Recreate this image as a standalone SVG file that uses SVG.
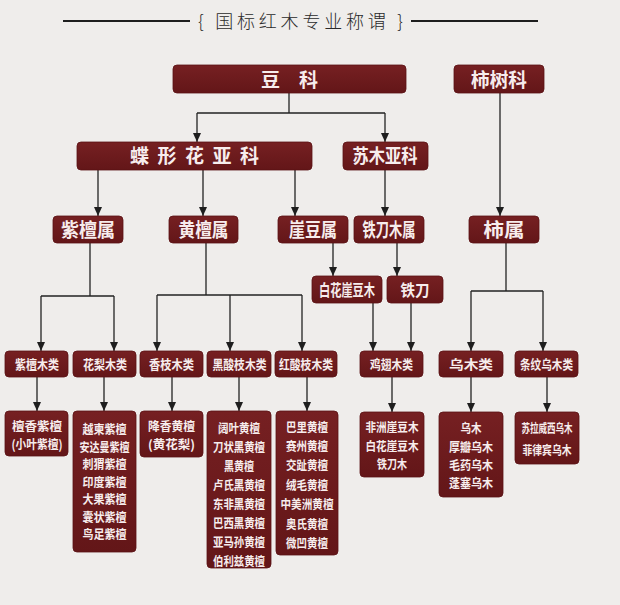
<svg xmlns="http://www.w3.org/2000/svg" width="620" height="605" viewBox="0 0 620 605">
<defs>
<linearGradient id="g" x1="0" y1="0" x2="0" y2="1">
<stop offset="0" stop-color="#762022"/>
<stop offset="1" stop-color="#631618"/>
</linearGradient>
<marker id="arr" markerUnits="userSpaceOnUse" markerWidth="9" markerHeight="9" refX="9" refY="4.5" orient="auto">
<path d="M0,0.5 L9,4.5 L0,8.5 z" fill="#1e1e1e"/>
</marker>
</defs>
<style>
.box{fill:url(#g);stroke:#5a1214;stroke-width:0.8}
.t{font-family:"Noto Sans CJK SC","Noto Sans",sans-serif;font-weight:700;fill:#f7eded;text-anchor:middle}
.l1{font-size:19px}
.l3{font-size:19px}
.l35{font-size:16px}
.l4{font-size:13px}
.l5{font-size:12.5px}
.ln{stroke:#222;stroke-width:1.3;fill:none}
.ar{stroke:#222;stroke-width:1.3;fill:none;marker-end:url(#arr)}
.title{font-family:"Noto Sans CJK SC","Noto Sans",sans-serif;font-weight:300;font-size:18px;fill:#2a2a2a;text-anchor:middle}
</style>
<rect x="0" y="0" width="620" height="605" fill="#efedeb"/>

<g id="title">
<line x1="63" y1="21" x2="190" y2="21" stroke="#1e1e1e" stroke-width="2"/>
<line x1="411" y1="21" x2="538" y2="21" stroke="#1e1e1e" stroke-width="2"/>
<text class="title" x="300.5" y="28" textLength="205" lengthAdjust="spacing">{ 国标红木专业称谓 }</text>
</g>

<g id="connectors">
<line class="ln" x1="289" y1="93" x2="289" y2="113"/>
<line class="ln" x1="197" y1="113" x2="385" y2="113"/>
<line class="ar" x1="197" y1="113" x2="197" y2="142"/>
<line class="ar" x1="385" y1="113" x2="385" y2="142"/>
<line class="ar" x1="500" y1="93" x2="500" y2="216"/>
<line class="ar" x1="98" y1="170" x2="98" y2="216"/>
<line class="ar" x1="203" y1="170" x2="203" y2="216"/>
<line class="ar" x1="295" y1="170" x2="295" y2="216"/>
<line class="ar" x1="385" y1="170" x2="385" y2="216"/>
<line class="ln" x1="90" y1="243" x2="90" y2="296"/>
<line class="ln" x1="41" y1="296" x2="114" y2="296"/>
<line class="ar" x1="41" y1="296" x2="41" y2="351"/>
<line class="ar" x1="114" y1="296" x2="114" y2="351"/>
<line class="ln" x1="206" y1="243" x2="206" y2="295"/>
<line class="ln" x1="157" y1="295" x2="302" y2="295"/>
<line class="ar" x1="157" y1="295" x2="157" y2="351"/>
<line class="ar" x1="230" y1="295" x2="230" y2="351"/>
<line class="ar" x1="302" y1="295" x2="302" y2="351"/>
<line class="ar" x1="333" y1="243" x2="333" y2="276"/>
<line class="ar" x1="397" y1="243" x2="397" y2="276"/>
<line class="ar" x1="373" y1="303" x2="373" y2="351"/>
<line class="ar" x1="411" y1="303" x2="411" y2="351"/>
<line class="ln" x1="506" y1="243" x2="506" y2="291"/>
<line class="ln" x1="471" y1="291" x2="543" y2="291"/>
<line class="ar" x1="471" y1="291" x2="471" y2="351"/>
<line class="ar" x1="543" y1="291" x2="543" y2="351"/>
<line class="ar" x1="37" y1="377" x2="37" y2="411"/>
<line class="ar" x1="104" y1="377" x2="104" y2="411"/>
<line class="ar" x1="172" y1="377" x2="172" y2="411"/>
<line class="ar" x1="239" y1="377" x2="239" y2="411"/>
<line class="ar" x1="307" y1="377" x2="307" y2="411"/>
<line class="ar" x1="392" y1="377" x2="392" y2="412"/>
<line class="ar" x1="471" y1="377" x2="471" y2="412"/>
<line class="ar" x1="547" y1="377" x2="547" y2="412"/>
</g>

<g id="douke">
<rect class="box" x="173" y="65" width="233" height="28" rx="4"/>
<text class="t l1" x="289.5" y="86.5" textLength="57" lengthAdjust="spacing">豆科</text>
</g>
<g id="shishuke">
<rect class="box" x="454" y="65" width="90" height="28" rx="4"/>
<text class="t l1" x="499" y="86.5" textLength="56" lengthAdjust="spacingAndGlyphs">柿树科</text>
</g>

<g id="diexinghua">
<rect class="box" x="77" y="142" width="235" height="28" rx="4"/>
<text class="t l1" x="194.5" y="163" textLength="129" lengthAdjust="spacing">蝶形花亚科</text>
</g>
<g id="sumu">
<rect class="box" x="343" y="142" width="85" height="28" rx="4"/>
<text class="t l1" x="385" y="163" textLength="65" lengthAdjust="spacingAndGlyphs">苏木亚科</text>
</g>

<g id="zitanshu">
<rect class="box" x="53" y="216" width="70" height="27" rx="4"/>
<text class="t l3" x="88" y="236.5" textLength="54" lengthAdjust="spacingAndGlyphs">紫檀属</text>
</g>
<g id="huangtanshu">
<rect class="box" x="169" y="216" width="69" height="27" rx="4"/>
<text class="t l3" x="203.5" y="236.5" textLength="50" lengthAdjust="spacingAndGlyphs">黄檀属</text>
</g>
<g id="yadoushu">
<rect class="box" x="278" y="216" width="70" height="27" rx="4"/>
<text class="t l3" x="313" y="236.5" textLength="48" lengthAdjust="spacingAndGlyphs">崖豆属</text>
</g>
<g id="tiedaomushu">
<rect class="box" x="354" y="216" width="70" height="27" rx="4"/>
<text class="t l3" x="389" y="236.5" textLength="53" lengthAdjust="spacingAndGlyphs">铁刀木属</text>
</g>
<g id="shishu">
<rect class="box" x="469" y="216" width="70" height="27" rx="4"/>
<text class="t l3" x="504" y="236.5" textLength="41" lengthAdjust="spacingAndGlyphs">柿属</text>
</g>

<g id="baihuayadoumu">
<rect class="box" x="312" y="276" width="70" height="27" rx="4"/>
<text class="t l35" x="347" y="295.5" textLength="56" lengthAdjust="spacingAndGlyphs">白花崖豆木</text>
</g>
<g id="tiedao">
<rect class="box" x="387" y="276" width="56" height="27" rx="4"/>
<text class="t l35" x="415" y="295.5" textLength="29" lengthAdjust="spacingAndGlyphs">铁刀</text>
</g>

<g id="zitanmulei">
<rect class="box" x="5" y="351" width="63" height="26" rx="4"/>
<text class="t l4" x="37" y="368.5" textLength="44" lengthAdjust="spacingAndGlyphs">紫檀木类</text>
</g>
<g id="hualimulei">
<rect class="box" x="73" y="351" width="63" height="26" rx="4"/>
<text class="t l4" x="105" y="368.5" textLength="44" lengthAdjust="spacingAndGlyphs">花梨木类</text>
</g>
<g id="xiangzhimulei">
<rect class="box" x="140" y="351" width="63" height="26" rx="4"/>
<text class="t l4" x="171.5" y="368.5" textLength="45" lengthAdjust="spacingAndGlyphs">香枝木类</text>
</g>
<g id="heisuanzhimulei">
<rect class="box" x="207" y="351" width="64" height="26" rx="4"/>
<text class="t l4" x="239.5" y="368.5" textLength="54" lengthAdjust="spacingAndGlyphs">黑酸枝木类</text>
</g>
<g id="hongsuanzhimulei">
<rect class="box" x="275" y="351" width="62" height="26" rx="4"/>
<text class="t l4" x="306" y="368.5" textLength="54" lengthAdjust="spacingAndGlyphs">红酸枝木类</text>
</g>
<g id="jichimulei">
<rect class="box" x="360" y="351" width="63" height="26" rx="4"/>
<text class="t l4" x="391.5" y="368.5" textLength="43" lengthAdjust="spacingAndGlyphs">鸡翅木类</text>
</g>
<g id="wumulei">
<rect class="box" x="439" y="351" width="64" height="26" rx="4"/>
<text class="t l4" x="471" y="368.5" textLength="44" lengthAdjust="spacingAndGlyphs">乌木类</text>
</g>
<g id="tiaowenwumulei">
<rect class="box" x="515" y="351" width="63" height="26" rx="4"/>
<text class="t l4" x="546.5" y="368.5" textLength="53" lengthAdjust="spacingAndGlyphs">条纹乌木类</text>
</g>

<g id="zitan-list">
<rect class="box" x="5" y="411" width="63" height="45" rx="4"/>
<text class="t l5" x="37" y="430.5" textLength="50" lengthAdjust="spacingAndGlyphs">檀香紫檀</text>
<text class="t l5" x="37" y="449" textLength="51" lengthAdjust="spacingAndGlyphs">(小叶紫檀)</text>
</g>
<g id="huali-list">
<rect class="box" x="73" y="411" width="63" height="141" rx="4"/>
<text class="t l5" x="104.5" y="434" textLength="44" lengthAdjust="spacingAndGlyphs">越柬紫檀</text>
<text class="t l5" x="104.5" y="451.5" textLength="50" lengthAdjust="spacingAndGlyphs">安达曼紫檀</text>
<text class="t l5" x="104.5" y="469" textLength="44" lengthAdjust="spacingAndGlyphs">刺猬紫檀</text>
<text class="t l5" x="104.5" y="486.5" textLength="44" lengthAdjust="spacingAndGlyphs">印度紫檀</text>
<text class="t l5" x="104.5" y="504" textLength="44" lengthAdjust="spacingAndGlyphs">大果紫檀</text>
<text class="t l5" x="104.5" y="521.5" textLength="44" lengthAdjust="spacingAndGlyphs">囊状紫檀</text>
<text class="t l5" x="104.5" y="539" textLength="44" lengthAdjust="spacingAndGlyphs">鸟足紫檀</text>
</g>
<g id="xiangzhi-list">
<rect class="box" x="140" y="411" width="63" height="46" rx="4"/>
<text class="t l5" x="171.5" y="430.5" textLength="47" lengthAdjust="spacingAndGlyphs">降香黄檀</text>
<text class="t l5" x="171.5" y="449" textLength="47" lengthAdjust="spacingAndGlyphs">(黄花梨)</text>
</g>
<g id="heisuanzhi-list">
<rect class="box" x="207" y="411" width="64" height="157" rx="4"/>
<text class="t l5" x="239" y="433" textLength="42" lengthAdjust="spacingAndGlyphs">阔叶黄檀</text>
<text class="t l5" x="239" y="452" textLength="52" lengthAdjust="spacingAndGlyphs">刀状黑黄檀</text>
<text class="t l5" x="239" y="471" textLength="30" lengthAdjust="spacingAndGlyphs">黑黄檀</text>
<text class="t l5" x="239" y="490" textLength="52" lengthAdjust="spacingAndGlyphs">卢氏黑黄檀</text>
<text class="t l5" x="239" y="509" textLength="52" lengthAdjust="spacingAndGlyphs">东非黑黄檀</text>
<text class="t l5" x="239" y="528" textLength="52" lengthAdjust="spacingAndGlyphs">巴西黑黄檀</text>
<text class="t l5" x="239" y="547" textLength="52" lengthAdjust="spacingAndGlyphs">亚马孙黄檀</text>
<text class="t l5" x="239" y="566" textLength="52" lengthAdjust="spacingAndGlyphs">伯利兹黄檀</text>
</g>
<g id="hongsuanzhi-list">
<rect class="box" x="276" y="411" width="62" height="144" rx="4"/>
<text class="t l5" x="307" y="431.5" textLength="42" lengthAdjust="spacingAndGlyphs">巴里黄檀</text>
<text class="t l5" x="307" y="450.5" textLength="42" lengthAdjust="spacingAndGlyphs">赛州黄檀</text>
<text class="t l5" x="307" y="470" textLength="42" lengthAdjust="spacingAndGlyphs">交趾黄檀</text>
<text class="t l5" x="307" y="489.5" textLength="42" lengthAdjust="spacingAndGlyphs">绒毛黄檀</text>
<text class="t l5" x="307" y="509" textLength="53" lengthAdjust="spacingAndGlyphs">中美洲黄檀</text>
<text class="t l5" x="307" y="529" textLength="42" lengthAdjust="spacingAndGlyphs">奥氏黄檀</text>
<text class="t l5" x="307" y="548" textLength="42" lengthAdjust="spacingAndGlyphs">微凹黄檀</text>
</g>
<g id="jichi-list">
<rect class="box" x="360" y="412" width="64" height="65" rx="4"/>
<text class="t l5" x="392" y="432" textLength="53" lengthAdjust="spacingAndGlyphs">非洲崖豆木</text>
<text class="t l5" x="392" y="450.5" textLength="53" lengthAdjust="spacingAndGlyphs">白花崖豆木</text>
<text class="t l5" x="392" y="469" textLength="30" lengthAdjust="spacingAndGlyphs">铁刀木</text>
</g>
<g id="wumu-list">
<rect class="box" x="439" y="412" width="64" height="85" rx="4"/>
<text class="t l5" x="471" y="432.5" textLength="21" lengthAdjust="spacingAndGlyphs">乌木</text>
<text class="t l5" x="471" y="451.5" textLength="44" lengthAdjust="spacingAndGlyphs">厚瓣乌木</text>
<text class="t l5" x="471" y="469.5" textLength="44" lengthAdjust="spacingAndGlyphs">毛药乌木</text>
<text class="t l5" x="471" y="487.5" textLength="44" lengthAdjust="spacingAndGlyphs">蓬塞乌木</text>
</g>
<g id="tiaowen-list">
<rect class="box" x="515" y="412" width="64" height="52" rx="4"/>
<text class="t l5" x="547" y="432.5" textLength="51" lengthAdjust="spacingAndGlyphs">苏拉威西乌木</text>
<text class="t l5" x="547" y="454.5" textLength="49" lengthAdjust="spacingAndGlyphs">菲律宾乌木</text>
</g>
</svg>
